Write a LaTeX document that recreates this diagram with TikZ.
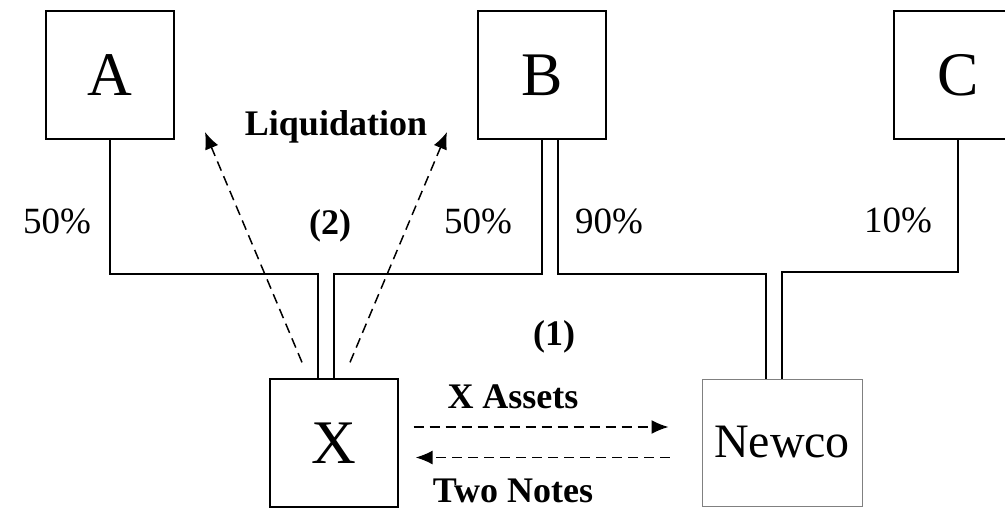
\documentclass[tikz,border=0pt]{standalone}
\usepackage{fontspec}
\setmainfont{Liberation Serif}
\usetikzlibrary{arrows.meta}
\tikzset{
  company/.style={draw, line width=1.3pt, minimum width=128pt, minimum height=128pt, inner sep=0pt, font=\fontsize{62}{66}\selectfont},
  own/.style={line width=1.3pt},
  pct/.style={inner sep=0pt, font=\fontsize{37}{40}\selectfont},
  step label/.style={inner sep=0pt, font=\fontsize{36}{40}\selectfont\bfseries},
  flow/.style={line width=1.5pt, dash pattern=on 10pt off 6pt, -{Latex[length=17pt,width=14pt]}}
}
\begin{document}
\begin{tikzpicture}[x=1pt,y=-1pt]
        \useasboundingbox (0,0) rectangle (1005,509);
        \node [company] (A) at (110,75) {A};
        \node [company] (B) at (542,75) {B};
        \node [company] (C) at (958,75) {C};
        \node [company] (X) at (334,443) {X};
        \node [company, draw=gray, line width=1pt, minimum width=160pt, minimum height=127pt, font=\fontsize{48}{52}\selectfont] (Newco) at (782,442.5) {Newco};
        \coordinate (bus) at (0,274);
        \coordinate (busC) at (0,272);
        \coordinate (xl) at ([xshift=-16pt]X.north);
        \coordinate (nl) at ([xshift=-16pt]Newco.north);
        \coordinate (br) at ([xshift=16pt]B.south);
        \draw [own] (A.south) -- (A.south |- bus) -| (xl);
        \draw [own] (B.south) -- (B.south |- bus) -| (X.north);
        \draw [own] (br) -- (br |- bus) -| (nl);
        \draw [own] (C.south) -- (C.south |- busC) -| (Newco.north);
        \node [pct] (pA) at (57,221) {50\%};
        \node [pct] (pBX) at (478,221) {50\%};
        \node [pct] (pBN) at (609,221) {90\%};
        \node [pct] (pC) at (898,220) {10\%};
        \node [step label] (liq) at (336,127) {Liquidation};
        \node [step label] (two) at (330,226) {(2)};
        \node [step label] (one) at (554,337) {(1)};
        \node [step label] (assets) at (513,397) {X Assets};
        \node [step label] (notes) at (513,491) {Two Notes};
        \coordinate (liqL) at (205,132);
        \coordinate (liqR) at (447,132);
        \draw [flow] ([xshift=-32pt,yshift=16pt]X.north) -- (liqL);
        \draw [flow] ([xshift=16pt,yshift=16pt]X.north) -- (liqR);
        \draw [flow, shorten <=15pt, shorten >=33pt] ([yshift=16pt]X.east) -- ([yshift=16pt]X.east -| Newco.west);
        \draw [flow, shorten <=32pt, shorten >=17pt] ([yshift=-15pt]Newco.west) -- ([yshift=-15pt]Newco.west -| X.east);
\end{tikzpicture}
\end{document}
